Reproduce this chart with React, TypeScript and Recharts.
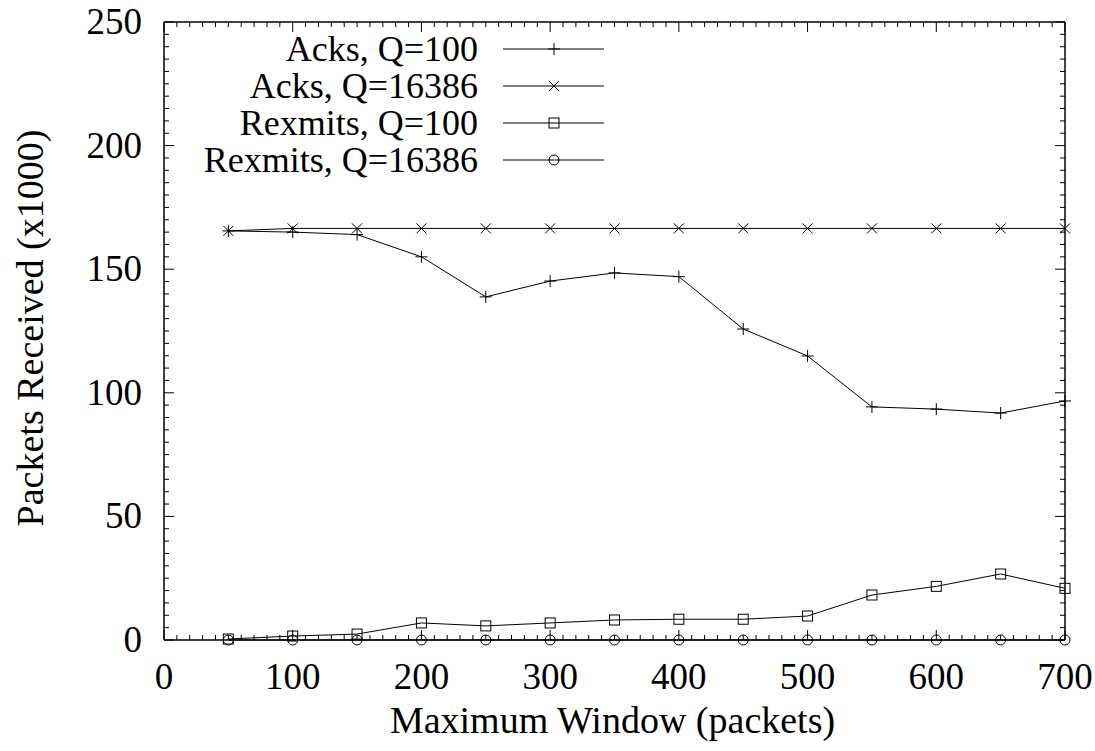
import { LineChart, Line, XAxis, YAxis, ReferenceLine, Label } from "recharts";

// Maximum window (packets)
const windows = [50, 100, 150, 200, 250, 300, 350, 400, 450, 500, 550, 600, 650, 700];

// packets received (x1000)
const acksQ100 = [165.5, 165, 164, 155, 138.8, 145.2, 148.5, 147, 125.8, 114.9, 94.3, 93.4, 91.8, 96.7];
const acksQ16386 = [165.5, 166.5, 166.5, 166.5, 166.5, 166.5, 166.5, 166.5, 166.5, 166.5, 166.5, 166.5, 166.5, 166.5];
const rexmitsQ100 = [0.4, 1.6, 2.4, 6.9, 5.7, 6.9, 8.1, 8.4, 8.4, 9.7, 18.2, 21.7, 26.7, 20.9];
const rexmitsQ16386 = [0, 0, 0, 0, 0, 0, 0, 0, 0, 0, 0, 0, 0, 0];

const xTicks: number[] = [];
for (let v = 0; v <= 700; v += 10) xTicks.push(v);
const yTicks: number[] = [];
for (let v = 0; v <= 250; v += 5) yTicks.push(v);

const data = windows.map((w, i) => ({
  w,
  acks100: acksQ100[i],
  acks16386: acksQ16386[i],
  rex100: rexmitsQ100[i],
  rex16386: rexmitsQ16386[i],
}));

const W = 1095;
const H = 751;
const PLOT_W = 901;
const PLOT_H = 618;
const FONT = "Liberation Serif, Times New Roman, Times, serif";
const tickTxt = { fontSize: 37, fontFamily: FONT };
const titleTxt = { fontSize: 38, fontFamily: FONT };

type Shape = "plus" | "cross" | "square" | "circle";

function marker(shape: Shape, cx: number, cy: number, key?: string) {
  const s = { stroke: "#000", strokeWidth: 1, fill: "none" };
  if (shape === "plus")
    return (
      <g key={key}>
        <line x1={cx - 6} x2={cx + 6} y1={cy} y2={cy} {...s} />
        <line x1={cx} x2={cx} y1={cy - 6} y2={cy + 6} {...s} />
      </g>
    );
  if (shape === "cross")
    return (
      <g key={key}>
        <line x1={cx - 5} x2={cx + 5} y1={cy - 5} y2={cy + 5} {...s} />
        <line x1={cx - 5} x2={cx + 5} y1={cy + 5} y2={cy - 5} {...s} />
      </g>
    );
  if (shape === "square") return <rect key={key} x={cx - 5} y={cy - 5} width={10} height={10} {...s} />;
  return <circle key={key} cx={cx} cy={cy} r={5} {...s} />;
}

const dotFor = (shape: Shape) => (p: any) => marker(shape, p.cx, p.cy, `${shape}-${p.index}`);

const series: { key: string; name: string; shape: Shape }[] = [
  { key: "acks100", name: "Acks, Q=100", shape: "plus" },
  { key: "acks16386", name: "Acks, Q=16386", shape: "cross" },
  { key: "rex100", name: "Rexmits, Q=100", shape: "square" },
  { key: "rex16386", name: "Rexmits, Q=16386", shape: "circle" },
];

const XTick = ({ x, y, payload }: any) => {
  const v = payload.value;
  const major = v % 100 === 0;
  const len = major ? 10 : 5;
  return (
    <g>
      <line x1={x} x2={x} y1={y} y2={y - len} stroke="#000" />
      <line x1={x} x2={x} y1={y - PLOT_H} y2={y - PLOT_H + len} stroke="#000" />
      {major && (
        <text x={x} y={y + 49} textAnchor="middle" style={tickTxt} fill="#000">
          {v}
        </text>
      )}
    </g>
  );
};

const YTick = ({ x, y, payload }: any) => {
  const v = payload.value;
  const major = v % 50 === 0;
  const len = major ? 10 : 5;
  return (
    <g>
      <line x1={x} x2={x + len} y1={y} y2={y} stroke="#000" />
      <line x1={x + PLOT_W} x2={x + PLOT_W - len} y1={y} y2={y} stroke="#000" />
      {major && (
        <text x={x - 22} y={y + 12} textAnchor="end" style={tickTxt} fill="#000">
          {v}
        </text>
      )}
    </g>
  );
};

const legendRows = [49, 86, 123, 160];

export default function App() {
  return (
    <div style={{ position: "absolute", left: 0, top: 0, width: W, height: H, background: "#fff" }}>
      <LineChart width={W} height={H} data={data} margin={{ top: 22, right: 30, left: 0, bottom: 0 }}>
        <XAxis
          dataKey="w"
          type="number"
          domain={[0, 700]}
          ticks={xTicks}
          interval={0}
          height={111}
          tickSize={0}
          tickMargin={0}
          tickLine={false}
          tick={<XTick />}
          axisLine={{ stroke: "#000", strokeWidth: 1.5 }}
        >
          <Label
            content={(p: any) => (
              <text
                x={p.viewBox.x + p.viewBox.width / 2 - 2}
                y={p.viewBox.y + 93}
                textAnchor="middle"
                style={titleTxt}
                fill="#000"
              >
                Maximum Window (packets)
              </text>
            )}
          />
        </XAxis>
        <YAxis
          type="number"
          domain={[0, 250]}
          ticks={yTicks}
          interval={0}
          width={164}
          tickSize={0}
          tickMargin={0}
          tickLine={false}
          tick={<YTick />}
          axisLine={{ stroke: "#000", strokeWidth: 1.5 }}
        >
          <Label
            content={(p: any) => {
              const cx = 43;
              const cy = p.viewBox.y + p.viewBox.height / 2 - 3;
              return (
                <text
                  x={cx}
                  y={cy}
                  transform={`rotate(-90 ${cx} ${cy})`}
                  textAnchor="middle"
                  style={titleTxt}
                  fill="#000"
                >
                  Packets Received (x1000)
                </text>
              );
            }}
          />
        </YAxis>
        <ReferenceLine y={250} stroke="#000" strokeWidth={1.5} />
        <ReferenceLine x={700} stroke="#000" strokeWidth={1.5} />
        {series.map((s) => (
          <Line
            key={s.key}
            dataKey={s.key}
            name={s.name}
            type="linear"
            stroke="#000"
            strokeWidth={1}
            dot={dotFor(s.shape)}
            activeDot={false}
            isAnimationActive={false}
          />
        ))}
      </LineChart>
      <svg width={700} height={200} style={{ position: "absolute", left: 0, top: 0 }}>
        {series.map((s, i) => (
          <g key={s.key}>
            <text x={478} y={legendRows[i] + 12} textAnchor="end" style={{ fontSize: 36, fontFamily: FONT }} fill="#000">
              {s.name}
            </text>
            <line x1={503} x2={604} y1={legendRows[i]} y2={legendRows[i]} stroke="#000" strokeWidth={1} />
            {marker(s.shape, 554, legendRows[i])}
          </g>
        ))}
      </svg>
    </div>
  );
}
